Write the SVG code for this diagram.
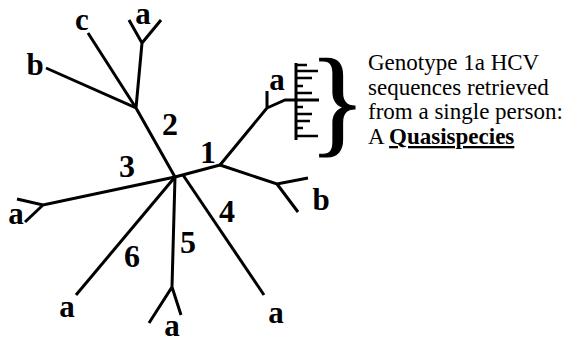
<svg xmlns="http://www.w3.org/2000/svg" width="571" height="339" viewBox="0 0 571 339">
<style>
.e{stroke:#000;stroke-width:3;fill:none;stroke-linecap:butt}
.t{stroke:#000;stroke-width:2.6;fill:none}
.lb{font-family:"Liberation Serif","Times New Roman",serif;font-weight:bold;font-size:31px;fill:#000;text-anchor:middle}
.dg{font-family:"Liberation Serif","Times New Roman",serif;font-weight:bold;font-size:32px;fill:#000;text-anchor:middle}
.tx{font-family:"Liberation Serif","Times New Roman",serif;font-size:23px;fill:#000}
.br{font-family:"Liberation Serif","Times New Roman",serif;font-size:118px;fill:#000;stroke:#000;stroke-width:1.2}
</style>
<rect width="571" height="339" fill="#fff"/>
<g id="connectors">
  <path class="e" d="M175,177 L220,165"/>
  <path class="e" d="M220,165 L267,108 L267,91 M267,108 L285,100 L319,100"/>
  <path class="e" d="M220,165 L277,184 L308,178 M277,184 L298,212"/>
  <path class="e" d="M175,177 L136,108 L46,68 M136,108 L88,33 M136,108 L142,43 L129,20 M142,43 L161,20"/>
  <path class="e" d="M175,177 L43,205 L17,199 M43,205 L25,222"/>
  <path class="e" d="M183,175 L264,295"/>
  <path class="e" d="M175,177 L172,287 L149,323 M172,287 L181,315"/>
  <path class="e" d="M175,177 L76,295"/>
</g>
<g id="comb">
  <path class="e" d="M296,63 L296,140"/>
  <path class="t" d="M296,65 H307 M296,71 H318 M296,78 H312 M296,86 H303 M296,93 H312 M296,107 H303 M296,114 H312 M296,121 H310 M296,128 H303 M296,136 H318"/>
</g>
<g id="labels">
  <g id="lbl-2c"><text class="lb" x="82" y="30">c</text></g>
  <g id="lbl-2a"><text class="lb" x="143" y="24">a</text></g>
  <g id="lbl-2b"><text class="lb" x="35" y="75">b</text></g>
  <g id="lbl-1a"><text class="lb" x="277" y="90">a</text></g>
  <g id="lbl-1b"><text class="lb" x="321" y="210">b</text></g>
  <g id="lbl-3a"><text class="lb" x="16" y="224">a</text></g>
  <g id="lbl-6a"><text class="lb" x="67" y="317">a</text></g>
  <g id="lbl-5a"><text class="lb" x="172" y="336">a</text></g>
  <g id="lbl-4a"><text class="lb" x="276" y="323">a</text></g>
  <g id="num-1"><text class="dg" x="208" y="163">1</text></g>
  <g id="num-2"><text class="dg" x="170" y="135">2</text></g>
  <g id="num-3"><text class="dg" x="127" y="177">3</text></g>
  <g id="num-4"><text class="dg" x="227" y="222">4</text></g>
  <g id="num-5"><text class="dg" x="188" y="253">5</text></g>
  <g id="num-6"><text class="dg" x="132" y="267">6</text></g>
</g>
<g id="brace"><text class="br" x="309" y="141">}</text></g>
<g id="caption">
  <text class="tx" x="368" y="70">Genotype 1a HCV</text>
  <text class="tx" x="368" y="95">sequences retrieved</text>
  <text class="tx" x="368" y="119">from a single person:</text>
  <text class="tx" x="368" y="144">A <tspan font-weight="bold" text-decoration="underline">Quasispecies</tspan></text>
</g>
</svg>
